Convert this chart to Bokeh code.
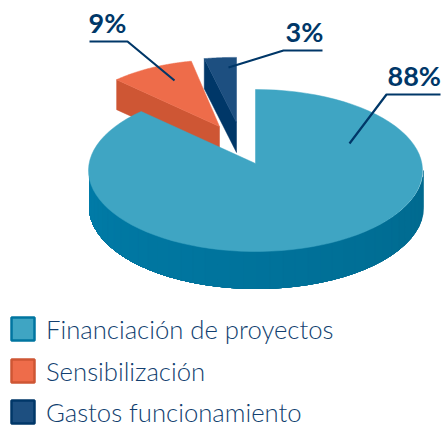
import numpy as np
from bokeh.plotting import figure
from bokeh.core.properties import value
from bokeh.embed import file_html
from bokeh.resources import INLINE

# Data
categories = ["Financiación de proyectos", "Sensibilización", "Gastos funcionamiento"]
shares = [88, 9, 3]
share_labels = ["88%", "9%", "3%"]

# Styles
top_colors = ["#3FA5C3", "#EE6C4A", "#1D4F80"]
side_colors = ["#0075A0", "#CE5634", "#003768"]
ink = "#003768"
text_ink = "#123F70"

W, H = 443, 426
p = figure(width=W, height=H, output_backend="svg", toolbar_location=None,
           x_range=(0, W), y_range=(H, 0),
           min_border=0, outline_line_color=None, background_fill_color="white")
p.axis.visible = False
p.grid.visible = False

# Layout of the 3D pie (page pixels)
CX, CY, RX, RY = 256.0, 170.0, 167.0, 81.0
APEX_LIFT = 7.0
apexes = [(255.0, 163.0), (219.0, 126.0), (236.0, 122.0)]
scales_x = [1.0, 0.9, 1.03]
scales_y = [1.0, 0.9, 0.88]
depths = [37.0, 30.0, 30.0]

def arc(t0, t1, n=90):
    t = np.radians(np.linspace(t0, t1, n))
    return np.sin(t) * RX, -np.cos(t) * RY + APEX_LIFT

frac = np.cumsum([0] + shares) / sum(shares) * 360.0
spans = [(frac[i], frac[i + 1]) for i in range(3)]

def top_face(i):
    ax, ay = apexes[i]
    dx, dy = arc(*spans[i])
    return np.r_[ax, ax + scales_x[i] * dx], np.r_[ay, ay + scales_y[i] * dy]

# Exploded slices: orange then dark blue
for i in (1, 2):
    ax, ay = apexes[i]
    d = depths[i]
    dx, dy = arc(*spans[i])
    ex, ey = ax + scales_x[i] * dx[0], ay + scales_y[i] * dy[0]
    p.patch([ex, ax, ax, ex], [ey, ay, ay + d, ey + d], color=side_colors[i], line_width=0.5)
    tx, ty = top_face(i)
    p.patch(tx, ty, color=top_colors[i], line_width=0.5)

# Main slice wall, shaded from right to left by overpainting
t = np.radians(np.linspace(90, 270, 41))
wx = CX + RX * np.sin(t)
wy = CY - RY * np.cos(t)
c0 = np.array([0x00, 0x6A, 0x8F])
c1 = np.array([0x00, 0x7C, 0xA8])
D = depths[0]
for k in range(len(t) - 1):
    c = c0 + (c1 - c0) * k / (len(t) - 2)
    col = "#%02X%02X%02X" % tuple(int(v) for v in c)
    p.patch(np.r_[wx[k:], wx[k:][::-1]], np.r_[wy[k:], (wy[k:] + D)[::-1]],
            fill_color=col, line_color=col, line_width=0.5)

# Main slice top
tx, ty = top_face(0)
p.patch(tx, ty, color=top_colors[0], line_width=0.5)

# Leader lines
leaders = [([440, 386, 349], [94, 94, 143]),
           ([89, 127, 174], [41, 41, 80]),
           ([322, 283, 228], [50, 50, 67])]
for xs, ys in leaders:
    p.line(xs, ys, line_color=ink, line_width=2.2)

# Percent labels (vertical centres)
label_pos = [(387, 75), (88, 22), (285, 31)]
for lab, (x, y) in zip(share_labels, label_pos):
    p.text([x], [y], text=[lab], text_font=value("Lato"), text_font_style="bold",
           text_font_size="27px", text_color=ink, text_baseline="middle")

# Legend
legend_y = [328.5, 370.5, 411.5]
legend_mid = [328, 370, 411]
for i, name in enumerate(categories):
    p.rect([22.5], [legend_y[i]], width=23, height=23, fill_color=top_colors[i],
           line_color=side_colors[i], line_width=2.5)
    p.text([45.5], [legend_mid[i]], text=[name], text_font=value("Lato Light"),
           text_font_size="25.7px", text_color=text_ink, text_baseline="middle")

open("out.html", "w").write(file_html(p, INLINE))
